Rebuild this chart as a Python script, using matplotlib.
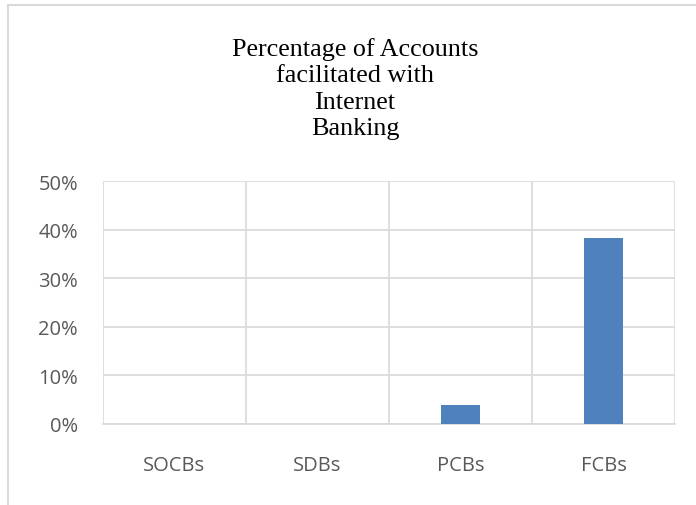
import matplotlib
matplotlib.use("Agg")
import matplotlib.pyplot as plt
from matplotlib.lines import Line2D
from matplotlib.ticker import PercentFormatter

categories = ["SOCBs", "SDBs", "PCBs", "FCBs"]
values = [0.0, 0.0, 0.04, 0.382]
yticks = [0, 0.1, 0.2, 0.3, 0.4, 0.5]

grid_col = "#d9d9d9"
text_col = "#595959"

fig = plt.figure(figsize=(6.96, 5.06), dpi=100)
ax = fig.add_axes([103 / 696, 81 / 506, 572 / 696, 243 / 506])

x = range(len(categories))
ax.bar(x, values, width=0.27, color="#4f81bd", zorder=3)

ax.set_xlim(-0.5, len(categories) - 0.5)
ax.set_ylim(0, 0.5)
ax.set_yticks(yticks)
ax.yaxis.set_major_formatter(PercentFormatter(1.0, decimals=0))
ax.set_xticks(list(x))
ax.set_xticklabels(categories)
ax.set_xticks([i + 0.5 for i in range(-1, len(categories))], minor=True)

ax.grid(axis="y", which="major", color=grid_col, lw=1.2, zorder=0)
ax.grid(axis="x", which="minor", color=grid_col, lw=1.2, zorder=0)
ax.tick_params(which="both", length=0)
ax.tick_params(axis="y", pad=18, labelsize=14.5, labelcolor=text_col)
ax.tick_params(axis="x", pad=22, labelsize=14.5, labelcolor=text_col)
for lab in ax.get_xticklabels() + ax.get_yticklabels():
    lab.set_fontfamily("Open Sans")

for side in ["top", "right", "left", "bottom"]:
    ax.spines[side].set_visible(False)
ax.spines["bottom"].set_visible(True)
ax.spines["bottom"].set_color(grid_col)
ax.spines["bottom"].set_linewidth(1.2)

fig.text(355 / 696, 1 - 89 / 506,
         "Percentage of Accounts\nfacilitated with\nInternet\nBanking",
         ha="center", va="center", fontsize=18.8, family="Liberation Serif",
         linespacing=1.27, color="black")

# outer chart border (top and left visible)
fig.add_artist(Line2D([8 / 696, 8 / 696], [0, 1 - 6 / 506], color=grid_col, lw=1.5))
fig.add_artist(Line2D([8 / 696, 1], [1 - 6 / 506, 1 - 6 / 506], color=grid_col, lw=1.5))

fig.savefig("out.png", dpi=100)
